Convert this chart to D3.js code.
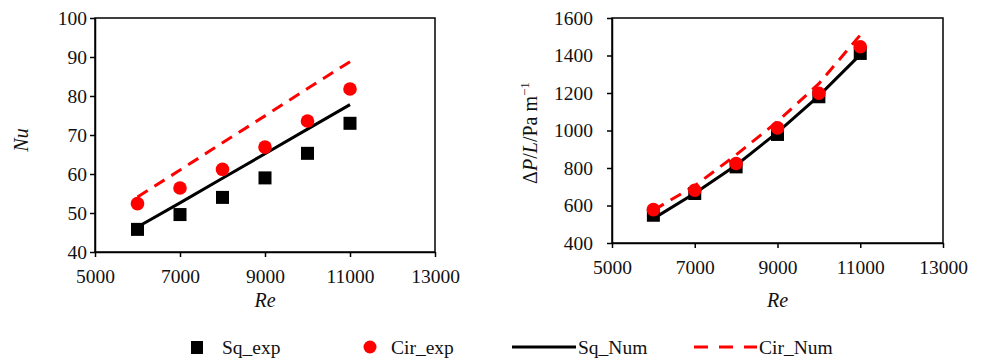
<!DOCTYPE html>
<html>
<head>
<meta charset="utf-8">
<script src="https://cdn.jsdelivr.net/npm/d3@7"></script>
</head>
<body style="margin:0; background:#fff">
<svg id="chart" width="984" height="361"></svg>
<script>
// Reynolds numbers
const re = [6000, 7000, 8000, 9000, 10000, 11000];
const reTicks = [5000, 7000, 9000, 11000, 13000];

// Nusselt number (left panel)
const nuSqExp = [45.8, 49.6, 54.0, 59.0, 65.3, 73.0];
const nuCirExp = [52.4, 56.4, 61.2, 66.9, 73.6, 81.8];
const nuSqNum = [46.4, 52.6, 58.9, 65.2, 71.5, 77.8];
const nuCirNum = [54.1, 61.0, 68.0, 74.9, 81.9, 88.8];
const nuTicks = [40, 50, 60, 70, 80, 90, 100];

// pressure drop per length (right panel)
const dpSqExp = [548, 664, 806, 979, 1180, 1411];
const dpCirExp = [578, 681, 824, 1014, 1199, 1447];
const dpSqNum = [530, 665, 815, 990, 1185, 1405];
const dpCirNum = [575, 705, 870, 1048, 1250, 1509];
const dpTicks = [400, 600, 800, 1000, 1200, 1400, 1600];

const FONT = "'Liberation Serif'";
const svg = d3.select('#chart');

function panel(opts){
    const x = d3.scaleLinear().domain([5000, 13000]).range([opts.x0, opts.x1]);
    const y = d3.scaleLinear().domain(opts.yDomain).range([opts.y0, opts.y1]);
    const g = svg.append('g');

    // frame
    g.append('rect')
        .attr('x', opts.x0).attr('y', opts.y1)
        .attr('width', opts.x1 - opts.x0).attr('height', opts.y0 - opts.y1)
        .attr('fill', 'none').attr('stroke', '#000').attr('stroke-width', 1.5);

    const xAxis = g.append('g')
        .attr('transform', `translate(0,${opts.y0})`)
        .call(d3.axisBottom(x).tickValues(reTicks).tickSize(5).tickSizeOuter(0).tickFormat(d3.format('d')))
        .attr('font-family', null).attr('font-size', null);
    xAxis.select('.domain').attr('stroke-width', 1.5);
    xAxis.selectAll('.tick line').attr('stroke-width', 1.5);
    xAxis.selectAll('.tick text').attr('dy', '0.71em').attr('y', 17)
        .style('font-family', FONT).style('font-size', '19.5px').attr('fill', '#111');

    const yAxis = g.append('g')
        .attr('transform', `translate(${opts.x0},0)`)
        .call(d3.axisLeft(y).tickValues(opts.yTicks).tickSize(5).tickSizeOuter(0).tickFormat(d3.format('d')))
        .attr('font-family', null).attr('font-size', null);
    yAxis.select('.domain').attr('stroke-width', 1.5);
    yAxis.selectAll('.tick line').attr('stroke-width', 1.5);
    yAxis.selectAll('.tick text').attr('x', -opts.labelGap)
        .style('font-family', FONT).style('font-size', '19.5px').attr('fill', '#111');

    const line = d3.line().x((d,i)=>x(re[i])).y(d=>y(d));

    // numerical lines
    g.append('path').datum(opts.sqNum)
        .attr('d', line).attr('fill', 'none')
        .attr('stroke', '#000').attr('stroke-width', 3);
    g.append('path').datum(opts.cirNum)
        .attr('d', line).attr('fill', 'none')
        .attr('stroke', '#ff0000').attr('stroke-width', 3)
        .attr('stroke-dasharray', '12,8');

    // experimental points
    g.selectAll('.sq').data(opts.sqExp).enter().append('rect')
        .attr('x', (d,i)=>x(re[i]) - 6.5).attr('y', d=>y(d) - 6.5)
        .attr('width', 13).attr('height', 13).attr('fill', '#000');
    g.selectAll('.cir').data(opts.cirExp).enter().append('circle')
        .attr('cx', (d,i)=>x(re[i])).attr('cy', d=>y(d))
        .attr('r', 6.8).attr('fill', '#ff0000');

    g.append('text')
        .attr('x', (opts.x0 + opts.x1) / 2).attr('y', 307)
        .attr('text-anchor', 'middle')
        .style('font-family', FONT).style('font-size', '20px').style('font-style', 'italic')
        .attr('fill', '#111')
        .text('Re');
    return g;
}

panel({x0: 95, x1: 435, y0: 252, y1: 18, yDomain: [40, 100], yTicks: nuTicks, labelGap: 8,
       sqExp: nuSqExp, cirExp: nuCirExp, sqNum: nuSqNum, cirNum: nuCirNum});
panel({x0: 612, x1: 943, y0: 243, y1: 18, yDomain: [400, 1600], yTicks: dpTicks, labelGap: 19,
       sqExp: dpSqExp, cirExp: dpCirExp, sqNum: dpSqNum, cirNum: dpCirNum});

// y titles
svg.append('text')
    .attr('transform', 'translate(28,140) rotate(-90)')
    .attr('text-anchor', 'middle')
    .style('font-family', FONT).style('font-size', '20px').style('font-style', 'italic')
    .attr('fill', '#111')
    .text('Nu');

const dpLabel = svg.append('text')
    .attr('transform', 'translate(537,133) rotate(-90)')
    .attr('text-anchor', 'middle')
    .style('font-family', FONT).style('font-size', '20px')
    .attr('fill', '#111');
dpLabel.append('tspan').text('\u0394');
dpLabel.append('tspan').style('font-style', 'italic').text('P');
dpLabel.append('tspan').text('/');
dpLabel.append('tspan').style('font-style', 'italic').text('L');
dpLabel.append('tspan').text('/Pa m');
dpLabel.append('tspan').style('font-size', '13px').attr('dy', -8).text('\u22121');

// legend
const legend = svg.append('g');
legend.append('rect').attr('x', 191).attr('y', 341).attr('width', 12).attr('height', 13).attr('fill', '#000');
legend.append('circle').attr('cx', 370).attr('cy', 347).attr('r', 6.5).attr('fill', '#ff0000');
legend.append('line').attr('x1', 512).attr('x2', 576).attr('y1', 347).attr('y2', 347)
    .attr('stroke', '#000').attr('stroke-width', 3);
legend.append('line').attr('x1', 694).attr('x2', 757).attr('y1', 347).attr('y2', 347)
    .attr('stroke', '#ff0000').attr('stroke-width', 3).attr('stroke-dasharray', '14,11');
const legendLabels = [['Sq_exp', 222], ['Cir_exp', 391], ['Sq_Num', 578], ['Cir_Num', 759]];
legend.selectAll('text').data(legendLabels).enter().append('text')
    .attr('x', d=>d[1]).attr('y', 354)
    .style('font-family', FONT).style('font-size', '19.5px')
    .attr('fill', '#111')
    .text(d=>d[0]);
</script>
</body>
</html>
